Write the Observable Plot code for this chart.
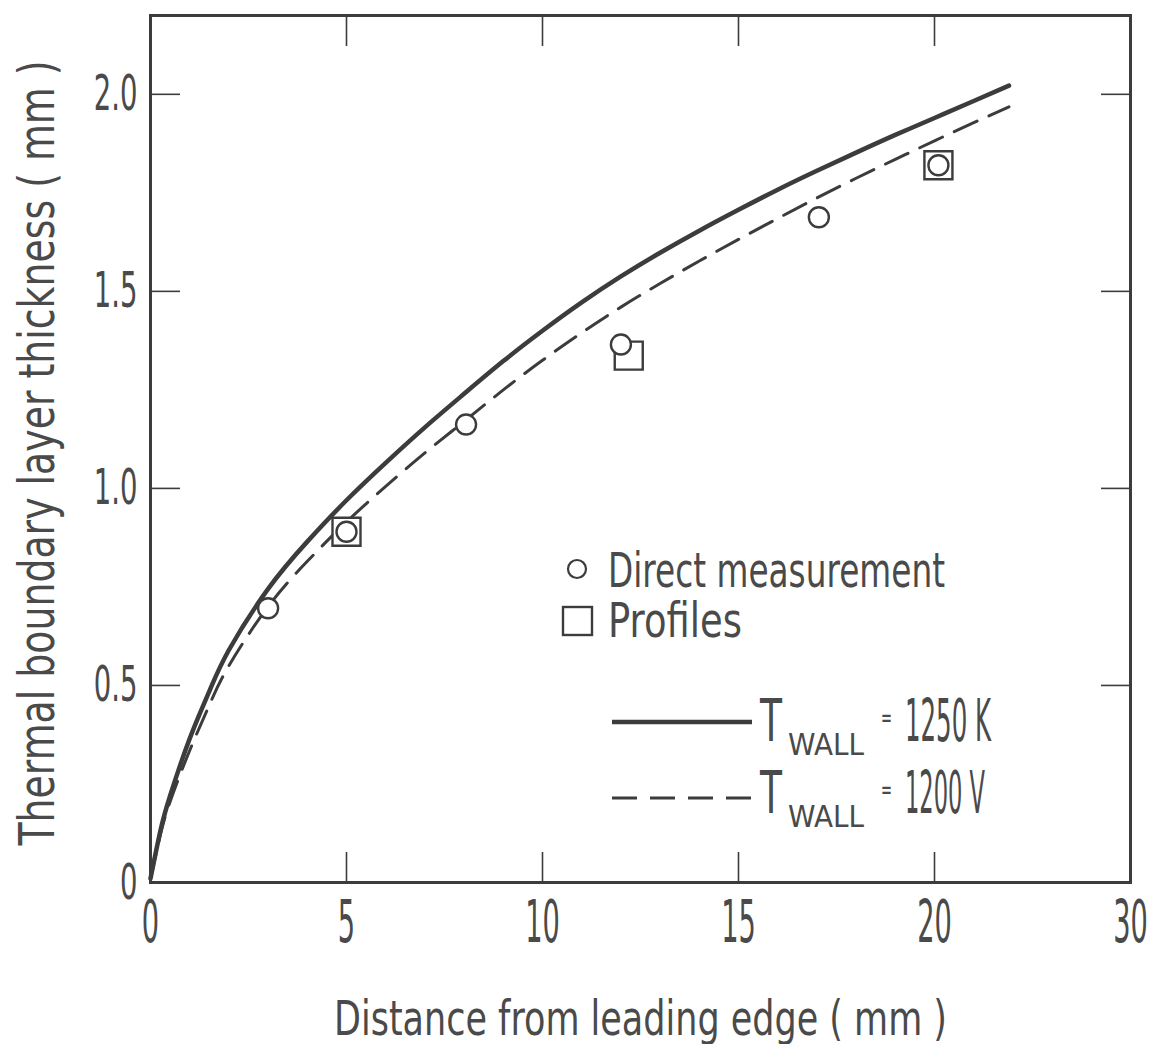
<!DOCTYPE html>
<html><head><meta charset="utf-8">
<script src="https://cdn.jsdelivr.net/npm/d3@7"></script>
<script src="https://cdn.jsdelivr.net/npm/@observablehq/plot@0.6"></script>
<style>
body{margin:0;background:#fff;}
#wrap{position:relative;width:1158px;height:1044px;}
#legend{position:absolute;left:0;top:0;pointer-events:none;}
</style></head><body><div id="wrap"></div>
<script>
const xLabel = "Distance from leading edge ( mm )";
const yLabel = "Thermal boundary layer thickness ( mm )";
const xTickValues = [0, 5, 10, 15, 20, 25];
const xTickLabels = ["0", "5", "10", "15", "20", "30"];
const yTickValues = [0, 0.5, 1.0, 1.5, 2.0];
const yTickLabels = ["0", "0.5", "1.0", "1.5", "2.0"];

const curveX     = [0, 0.25, 0.5, 1, 1.5, 2, 3, 4, 5, 6, 7, 8, 9, 10, 11, 12, 13, 14, 15, 16, 17, 18, 19, 20, 21, 21.9];
const solid1250  = [0.01, 0.13, 0.22, 0.365, 0.485, 0.59, 0.745, 0.865, 0.97, 1.065, 1.155, 1.24, 1.323, 1.40, 1.472, 1.538, 1.598, 1.654, 1.707, 1.758, 1.806, 1.852, 1.897, 1.94, 1.983, 2.022];
const dashed1200 = [0.01, 0.12, 0.205, 0.335, 0.45, 0.55, 0.70, 0.815, 0.915, 1.005, 1.09, 1.17, 1.25, 1.325, 1.395, 1.46, 1.52, 1.577, 1.632, 1.685, 1.737, 1.787, 1.835, 1.882, 1.928, 1.968];

const directX = [3.0, 5.0, 8.05, 12.0, 17.05, 20.1];
const directY = [0.696, 0.89, 1.162, 1.365, 1.688, 1.82];
const profilesX = [5.0, 12.2, 20.1];
const profilesY = [0.89, 1.337, 1.82];

const legendLabels = ["Direct measurement", "Profiles"];
const seriesValues = ["1250 K", "1200 V"];
const seriesSub = "WALL";

const curveData = curveX.map((x, i) => ({x, a: solid1250[i], b: dashed1200[i]}));
const direct = directX.map((x, i) => ({x, y: directY[i]}));
const profiles = profilesX.map((x, i) => ({x, y: profilesY[i]}));

const ink = "#3c3c3c";
const textInk = "#4a4a4a";

const plot = Plot.plot({
  width: 1158, height: 1044,
  marginLeft: 150, marginRight: 28, marginTop: 15, marginBottom: 162,
  style: {fontFamily: "'DejaVu Sans', 'Liberation Sans', sans-serif", color: textInk, background: "white"},
  x: {domain: [0, 25]},
  y: {domain: [0, 2.2]},
  marks: [
    Plot.line(curveData, {x: "x", y: "a", stroke: ink, strokeWidth: 4.5, curve: "natural"}),
    Plot.line(curveData, {x: "x", y: "b", stroke: ink, strokeWidth: 3, strokeDasharray: "25,13", curve: "natural"}),
    Plot.dot(profiles, {x: "x", y: "y", symbol: "square", r: 15.8, stroke: ink, strokeWidth: 2.4, fill: "white"}),
    Plot.dot(direct, {x: "x", y: "y", r: 10, stroke: ink, strokeWidth: 2.4, fill: "white"}),
    Plot.frame({stroke: ink, strokeWidth: 3}),
    Plot.axisX({anchor: "bottom", ticks: xTickValues, tickSize: -30, tickFormat: () => "", stroke: ink, strokeWidth: 1.6, label: null}),
    Plot.axisX({anchor: "top", ticks: xTickValues, tickSize: -30, tickFormat: () => "", stroke: ink, strokeWidth: 1.6, label: null}),
    Plot.axisY({anchor: "left", ticks: yTickValues, tickSize: -30, tickFormat: () => "", stroke: ink, strokeWidth: 1.6, label: null}),
    Plot.axisY({anchor: "right", ticks: yTickValues, tickSize: -30, tickFormat: () => "", stroke: ink, strokeWidth: 1.6, label: null}),
    Plot.axisX({anchor: "bottom", ticks: xTickValues, tickSize: 0, tickPadding: 18, fontSize: 58,
      tickFormat: d => xTickLabels[xTickValues.indexOf(d)], label: null}),
    Plot.axisY({anchor: "left", ticks: yTickValues, tickSize: 0, tickPadding: 13, fontSize: 50,
      tickFormat: d => yTickLabels[yTickValues.indexOf(d)], label: null}),
    Plot.text([xLabel], {text: d => d, frameAnchor: "bottom", dy: 152, lineAnchor: "bottom", textAnchor: "middle", fontSize: 48, fill: textInk}),
    Plot.text([yLabel], {text: d => d, frameAnchor: "left", dx: -97, dy: 4, rotate: -90, lineAnchor: "bottom", textAnchor: "middle", fontSize: 50, fill: textInk})
  ]
});

const wrap = document.getElementById("wrap");
wrap.append(plot);

function squeezeBy(sel, f) {
  sel.each(function() {
    const L = this.getComputedTextLength();
    if (L > 0) { this.setAttribute("textLength", L * f); this.setAttribute("lengthAdjust", "spacingAndGlyphs"); }
  });
}
function squeezeTo(node, w) {
  node.setAttribute("textLength", w);
  node.setAttribute("lengthAdjust", "spacingAndGlyphs");
}
const svg = d3.select(plot);
squeezeBy(svg.selectAll('g[aria-label="x-axis tick label"] text'), 0.47);
squeezeBy(svg.selectAll('g[aria-label="y-axis tick label"] text'), 0.55);
svg.selectAll("text").each(function() {
  if (this.textContent === xLabel) squeezeTo(this, 613);
  if (this.textContent === yLabel) squeezeTo(this, 785);
});

// Legend overlay
const lg = d3.select(wrap).append("svg").attr("id", "legend")
  .attr("width", 1158).attr("height", 1044)
  .style("font-family", "'DejaVu Sans', 'Liberation Sans', sans-serif");

lg.append("circle").attr("cx", 577).attr("cy", 569).attr("r", 9)
  .attr("fill", "white").attr("stroke", ink).attr("stroke-width", 2.2);
lg.append("rect").attr("x", 563).attr("y", 607).attr("width", 29).attr("height", 28)
  .attr("fill", "white").attr("stroke", ink).attr("stroke-width", 2.4);

const t1 = lg.append("text").attr("x", 608).attr("y", 587).attr("font-size", 48).attr("fill", textInk).text(legendLabels[0]);
squeezeTo(t1.node(), 337);
const t2 = lg.append("text").attr("x", 608).attr("y", 637).attr("font-size", 48).attr("fill", textInk).text(legendLabels[1]);
squeezeTo(t2.node(), 134);

const rows = [
  {y: 722, dash: null, sw: 4.5, base: 741, val: seriesValues[0], valW: 86},
  {y: 798, dash: "25,13", sw: 3, base: 813, val: seriesValues[1], valW: 80}
];
rows.forEach(r => {
  const ln = lg.append("line").attr("x1", 612).attr("x2", 752).attr("y1", r.y).attr("y2", r.y)
    .attr("stroke", ink).attr("stroke-width", r.sw);
  if (r.dash) ln.attr("stroke-dasharray", r.dash);
  const T = lg.append("text").attr("x", 760).attr("y", r.base).attr("font-size", 58).attr("fill", textInk).text("T");
  squeezeTo(T.node(), 22);
  const S = lg.append("text").attr("x", 788).attr("y", r.base + 14).attr("font-size", 30).attr("fill", textInk).text(seriesSub);
  squeezeTo(S.node(), 76);
  const E = lg.append("text").attr("x", 881).attr("y", r.base - 14).attr("font-size", 26).attr("fill", textInk).text("=");
  squeezeTo(E.node(), 11);
  const V = lg.append("text").attr("x", 905).attr("y", r.base).attr("font-size", 58).attr("fill", textInk).text(r.val);
  squeezeTo(V.node(), r.valW);
});
</script></body></html>
